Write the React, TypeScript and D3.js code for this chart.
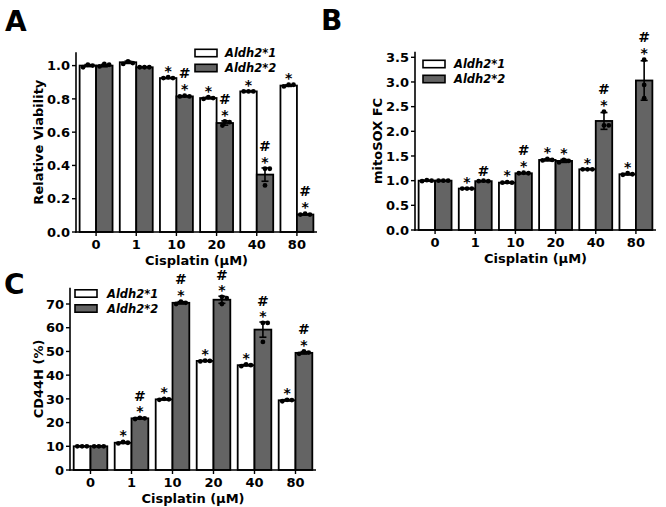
import React from "react";
import * as d3 from "d3";

const categories = ["0", "1", "10", "20", "40", "80"];
const seriesNames = ["Aldh2*1", "Aldh2*2"];

// Panel A: Relative Viability
const aMeans1 = [1.0, 1.02, 0.925, 0.805, 0.845, 0.88];
const aMeans2 = [1.0, 0.99, 0.815, 0.655, 0.345, 0.105];
const aErr1 = [0.006, 0.007, 0.003, 0.005, 0.002, 0.005];
const aErr2 = [0.007, 0.002, 0.003, 0.013, 0.04, 0.003];
const aDots1 = [[0.99, 1.0, 1.005], [1.01, 1.025, 1.015], [0.925, 0.925, 0.93], [0.8, 0.81, 0.805], [0.845, 0.845, 0.845], [0.875, 0.885, 0.885]];
const aDots2 = [[0.995, 1.005, 1.01], [0.99, 0.99, 0.99], [0.815, 0.815, 0.82], [0.64, 0.66, 0.665], [0.38, 0.38, 0.28], [0.105, 0.105, 0.11]];
const aMarks1 = [[], [], ["*"], ["*"], ["*"], ["*"]];
const aMarks2 = [[], [], ["*", "#"], ["*", "#"], ["*", "#"], ["*", "#"]];
const aTicks = [0, 0.2, 0.4, 0.6, 0.8, 1.0];

// Panel B: mitoSOX FC
const bMeans1 = [1.0, 0.84, 0.96, 1.42, 1.23, 1.13];
const bMeans2 = [1.0, 0.99, 1.15, 1.4, 2.21, 3.03];
const bErr1 = [0.01, 0.005, 0.01, 0.02, 0.005, 0.015];
const bErr2 = [0.005, 0.01, 0.01, 0.03, 0.17, 0.4];
const bDots1 = [[0.99, 1.0, 1.01], [0.84, 0.84, 0.84], [0.96, 0.96, 0.97], [1.41, 1.42, 1.44], [1.23, 1.23, 1.23], [1.12, 1.13, 1.15]];
const bDots2 = [[1.0, 1.0, 1.0], [0.99, 0.99, 1.0], [1.15, 1.15, 1.16], [1.37, 1.4, 1.42], [2.12, 2.12, 2.4], [2.67, 2.94, 3.45]];
const bMarks1 = [[], ["*"], ["*"], ["*"], ["*"], ["*"]];
const bMarks2 = [[], ["#"], ["*", "#"], ["*"], ["*", "#"], ["*", "#"]];
const bTicks = [0, 0.5, 1.0, 1.5, 2.0, 2.5, 3.0, 3.5];

// Panel C: CD44H (%)
const cMeans1 = [10, 11.5, 29.8, 46, 44.2, 29.4];
const cMeans2 = [10, 21.8, 70.5, 71.8, 59.2, 49.4];
const cErr1 = [0.2, 0.3, 0.3, 0.2, 0.3, 0.3];
const cErr2 = [0.2, 0.3, 0.5, 1.5, 3.2, 0.5];
const cDots1 = [[10, 10, 10], [11.2, 11.5, 11.8], [29.6, 29.8, 30], [45.8, 46, 46.1], [43.8, 44.2, 44.5], [29, 29.5, 29.6]];
const cDots2 = [[10, 10, 10], [21.5, 21.8, 22], [70, 70.5, 71], [70, 72.5, 73], [54, 62, 62], [49, 49.5, 50]];
const cMarks1 = [[], ["*"], ["*"], ["*"], ["*"], ["*"]];
const cMarks2 = [[], ["*", "#"], ["*", "#"], ["*", "#"], ["*", "#"], ["*", "#"]];
const cTicks = [0, 10, 20, 30, 40, 50, 60, 70];

const FONT = "DejaVu Sans, sans-serif";
const GREY = "#646464";

function swarm(ys: number[], r: number) {
  const placed: { x: number; y: number }[] = [];
  const order = ys.map((y, i) => ({ y, i })).sort((a, b) => a.y - b.y);
  const out: { x: number; y: number }[] = new Array(ys.length);
  for (const o of order) {
    const cands = [0];
    for (let k = 1; k < 10; k++) { cands.push(k * 0.5 * r); cands.push(-k * 0.5 * r); }
    let chosen = 0;
    for (const c of cands) {
      if (placed.every((p) => Math.hypot(p.x - c, p.y - o.y) >= 2 * r - 0.01)) { chosen = c; break; }
    }
    placed.push({ x: chosen, y: o.y });
    out[o.i] = { x: chosen, y: o.y };
  }
  return out;
}

type PanelProps = {
  letter: string;
  letterPos: [number, number];
  xRange: [number, number];
  y0: number;
  yRef: [number, number];
  yTop: number;
  ticks: number[];
  fmt: (v: number) => string;
  ylabel: string;
  ylabelX: number;
  means: number[][];
  errs: number[][];
  dots: number[][][];
  marks: string[][][];
  legend: [number, number, number];
};

function Panel(p: PanelProps) {
  const x = d3.scaleLinear().domain([-0.5, 5.5]).range(p.xRange);
  const step = x(1) - x(0);
  const bw = step * 0.41;
  const y = d3.scaleLinear().domain([0, p.yRef[0]]).range([p.y0, p.yRef[1]]);
  const fills = ["#ffffff", GREY];
  const r = 2.4;
  const yTopPx = y(p.yTop);
  return (
    <g>
      <text x={p.letterPos[0]} y={p.letterPos[1]} fontFamily={FONT} fontWeight="bold" fontSize={28}>{p.letter}</text>
      {p.means.map((ser, s) =>
        ser.map((v, i) => {
          const cx = x(i) + (s === 0 ? -bw / 2 : bw / 2);
          return (
            <rect key={`b${s}-${i}`} x={cx - bw / 2} y={y(v)} width={bw} height={p.y0 - y(v)}
              fill={fills[s]} stroke="#000" strokeWidth={1.8} />
          );
        })
      )}
      {p.means.map((ser, s) =>
        ser.map((v, i) => {
          const cx = x(i) + (s === 0 ? -bw / 2 : bw / 2);
          const e = p.errs[s][i];
          const sw = swarm(p.dots[s][i].map((d) => y(d)), r);
          const top = y(v + e);
          return (
            <g key={`e${s}-${i}`}>
              <line x1={cx} x2={cx} y1={y(v - e)} y2={top} stroke="#000" strokeWidth={1.6} />
              <line x1={cx - 3.5} x2={cx + 3.5} y1={top} y2={top} stroke="#000" strokeWidth={1.6} />
              <line x1={cx - 3.5} x2={cx + 3.5} y1={y(v - e)} y2={y(v - e)} stroke="#000" strokeWidth={1.6} />
              {sw.map((d, k) => (
                <circle key={k} cx={cx + d.x} cy={d.y} r={r} fill="#000" />
              ))}
              {p.marks[s][i].map((m, k) => {
                const center = Math.min(top, ...sw.map((d) => d.y - r)) - 7 - k * 13;
                const base = m === "*" ? center + 7.7 : center + 5.1;
                return (
                  <text key={`m${k}`} x={cx} y={base} textAnchor="middle" fontFamily={FONT}
                    fontWeight="bold" fontSize={14}>{m}</text>
                );
              })}
            </g>
          );
        })
      )}
      {/* axes */}
      <line x1={p.xRange[0]} x2={p.xRange[0]} y1={p.y0 + 0.8} y2={yTopPx} stroke="#000" strokeWidth={1.6} />
      <line x1={p.xRange[0] - 0.8} x2={p.xRange[1]} y1={p.y0} y2={p.y0} stroke="#000" strokeWidth={1.6} />
      {p.ticks.map((t) => (
        <g key={`yt${t}`}>
          <line x1={p.xRange[0] - 4} x2={p.xRange[0]} y1={y(t)} y2={y(t)} stroke="#000" strokeWidth={1.4} />
          <text x={p.xRange[0] - 6} y={y(t)} dy="0.36em" textAnchor="end" fontFamily={FONT}
            fontWeight="bold" fontSize={13}>{p.fmt(t)}</text>
        </g>
      ))}
      {categories.map((c, i) => (
        <g key={`xt${c}`}>
          <line x1={x(i)} x2={x(i)} y1={p.y0} y2={p.y0 + 4} stroke="#000" strokeWidth={1.4} />
          <text x={x(i)} y={p.y0 + 17} textAnchor="middle" fontFamily={FONT} fontWeight="bold" fontSize={13}>{c}</text>
        </g>
      ))}
      <text x={(p.xRange[0] + p.xRange[1]) / 2} y={p.y0 + 32.5} textAnchor="middle" fontFamily={FONT}
        fontWeight="bold" fontSize={13}>Cisplatin (μM)</text>
      <text transform={`translate(${p.ylabelX},${(p.y0 + yTopPx) / 2}) rotate(-90)`} textAnchor="middle"
        dy="0.36em" fontFamily={FONT} fontWeight="bold" fontSize={13}>{p.ylabel}</text>
      {/* legend */}
      {seriesNames.map((n, s) => {
        const ly = p.legend[1] + s * 15;
        return (
          <g key={`lg${s}`}>
            <rect x={p.legend[0]} y={ly - 3.7} width={22} height={7.4} fill={fills[s]} stroke="#000" strokeWidth={1.6} />
            <text x={p.legend[2]} y={ly} dy="0.36em" fontFamily={FONT} fontWeight="bold" fontStyle="italic"
              fontSize={11.5}>{n}</text>
          </g>
        );
      })}
    </g>
  );
}

export default function App() {
  const f1 = d3.format(".1f");
  const f0 = d3.format("d");
  return (
    <svg width={666} height={507} style={{ position: "absolute", left: 0, top: 0, background: "#fff" }}>
      <rect width={666} height={507} fill="#fff" />
      <Panel letter="A" letterPos={[5, 30.5]} xRange={[76, 317]} y0={232} yRef={[1, 65.6]} yTop={1.08}
        ticks={aTicks} fmt={f1} ylabel="Relative Viability" ylabelX={38}
        means={[aMeans1, aMeans2]} errs={[aErr1, aErr2]} dots={[aDots1, aDots2]} marks={[aMarks1, aMarks2]}
        legend={[195, 53, 225]} />
      <Panel letter="B" letterPos={[321, 29.5]} xRange={[415, 656]} y0={230} yRef={[3.5, 57.3]} yTop={3.61}
        ticks={bTicks} fmt={f1} ylabel="mitoSOX FC" ylabelX={377}
        means={[bMeans1, bMeans2]} errs={[bErr1, bErr2]} dots={[bDots1, bDots2]} marks={[bMarks1, bMarks2]}
        legend={[423, 64, 454]} />
      <Panel letter="C" letterPos={[4, 294]} xRange={[70, 316]} y0={470} yRef={[70, 304]} yTop={76.8}
        ticks={cTicks} fmt={f0} ylabel="CD44H (%)" ylabelX={38}
        means={[cMeans1, cMeans2]} errs={[cErr1, cErr2]} dots={[cDots1, cDots2]} marks={[cMarks1, cMarks2]}
        legend={[75, 293.5, 107]} />
    </svg>
  );
}
